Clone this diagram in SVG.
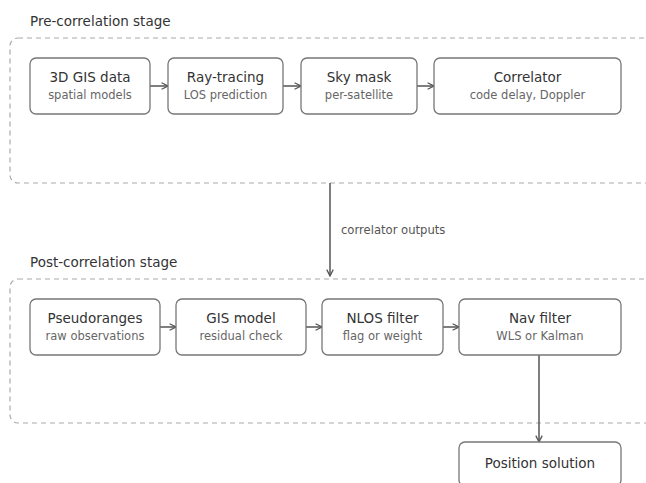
<svg xmlns="http://www.w3.org/2000/svg" width="646" height="483" viewBox="0 0 646 483">
<defs>
<marker id="ah" viewBox="0 0 10 10" refX="9" refY="5" markerWidth="8" markerHeight="8" markerUnits="userSpaceOnUse" orient="auto">
<path d="M1,1 L9,5 L1,9" fill="none" stroke="#555" stroke-width="1.6"/>
</marker>
<style>
.grp{fill:none;stroke:#aaa;stroke-width:1.2;stroke-dasharray:5 4}
.glabel{font-family:"DejaVu Sans",sans-serif;font-size:13.5px;fill:#333}
.box{fill:#fff;stroke:#777;stroke-width:1.3}
.t{font-family:"DejaVu Sans",sans-serif;font-size:13.5px;fill:#333;text-anchor:middle}
.s{font-family:"DejaVu Sans",sans-serif;font-size:11.5px;fill:#666;text-anchor:middle}
.e{stroke:#555;stroke-width:1.5;fill:none;marker-end:url(#ah)}
.el{font-family:"DejaVu Sans",sans-serif;font-size:11.6px;fill:#555}
</style>
</defs>
<g id="pre-stage">
<rect class="grp" x="10" y="38" width="660" height="145" rx="8"/>
<text class="glabel" x="30" y="26">Pre-correlation stage</text>
</g>
<g id="post-stage">
<rect class="grp" x="10" y="279" width="660" height="144" rx="8"/>
<text class="glabel" x="30" y="267">Post-correlation stage</text>
</g>
<g id="connectors">
<line class="e" x1="150" y1="86" x2="168" y2="86"/>
<line class="e" x1="283" y1="86" x2="301" y2="86"/>
<line class="e" x1="417" y1="86" x2="434" y2="86"/>
<line class="e" x1="330" y1="183" x2="330" y2="276"/>
<text class="el" x="341" y="234">correlator outputs</text>
<line class="e" x1="160" y1="327" x2="176" y2="327"/>
<line class="e" x1="306" y1="327" x2="322" y2="327"/>
<line class="e" x1="443" y1="327" x2="459" y2="327"/>
<line class="e" x1="539" y1="355" x2="539" y2="442"/>
</g>
<g id="gis-data">
<rect class="box" x="30" y="58" width="120" height="56" rx="6"/>
<text class="t" x="90" y="82">3D GIS data</text>
<text class="s" x="90" y="99">spatial models</text>
</g>
<g id="ray-tracing">
<rect class="box" x="168" y="58" width="115" height="56" rx="6"/>
<text class="t" x="225.5" y="82">Ray-tracing</text>
<text class="s" x="225.5" y="99">LOS prediction</text>
</g>
<g id="sky-mask">
<rect class="box" x="301" y="58" width="116" height="56" rx="6"/>
<text class="t" x="359" y="82">Sky mask</text>
<text class="s" x="359" y="99">per-satellite</text>
</g>
<g id="correlator">
<rect class="box" x="434" y="58" width="187" height="56" rx="6"/>
<text class="t" x="527.5" y="82">Correlator</text>
<text class="s" x="527.5" y="99">code delay, Doppler</text>
</g>
<g id="pseudoranges">
<rect class="box" x="30" y="299" width="130" height="56" rx="6"/>
<text class="t" x="95" y="323">Pseudoranges</text>
<text class="s" x="95" y="340">raw observations</text>
</g>
<g id="gis-model">
<rect class="box" x="176" y="299" width="130" height="56" rx="6"/>
<text class="t" x="241" y="323">GIS model</text>
<text class="s" x="241" y="340">residual check</text>
</g>
<g id="nlos-filter">
<rect class="box" x="322" y="299" width="121" height="56" rx="6"/>
<text class="t" x="382.5" y="323">NLOS filter</text>
<text class="s" x="382.5" y="340">flag or weight</text>
</g>
<g id="nav-filter">
<rect class="box" x="459" y="299" width="162" height="56" rx="6"/>
<text class="t" x="540" y="323">Nav filter</text>
<text class="s" x="540" y="340">WLS or Kalman</text>
</g>
<g id="position-solution">
<rect class="box" x="459" y="442" width="162" height="44" rx="6"/>
<text class="t" x="540" y="468">Position solution</text>
</g>
</svg>
